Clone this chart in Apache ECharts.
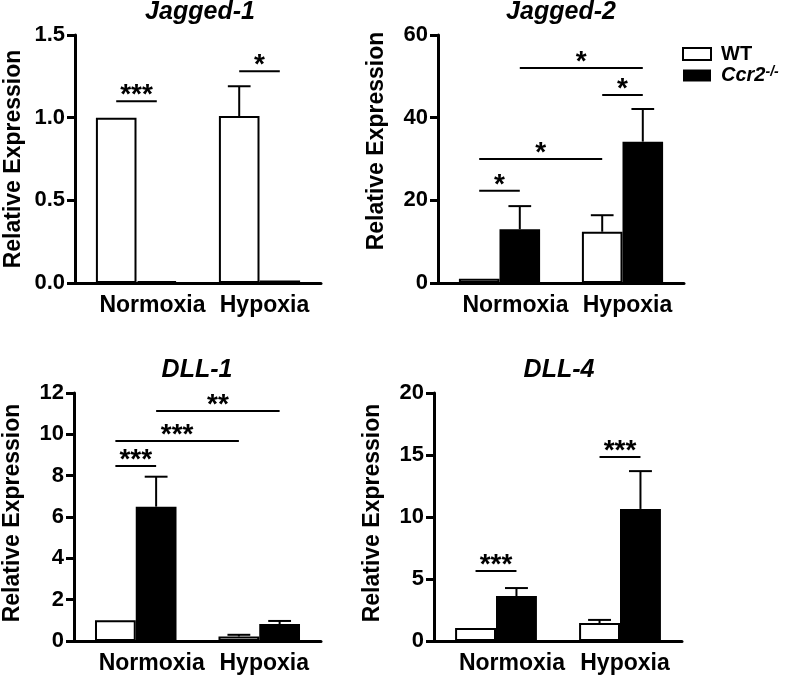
<!DOCTYPE html>
<html><head><meta charset="utf-8">
<script src="https://cdn.jsdelivr.net/npm/echarts@6/dist/echarts.min.js"></script>
<style>html,body{margin:0;padding:0;background:#fff}#c{width:786px;height:678px}</style>
</head><body><div id="c"></div>
<script>
// ---------- data ----------
const categories = ['Normoxia', 'Hypoxia'];
const panelTitles = ['Jagged-1', 'Jagged-2', 'DLL-1', 'DLL-4'];
const seriesNames = ['WT', 'Ccr2'];

const jag1WT = [1.0, 1.01];
const jag1WTUpper = [1.0, 1.19];
const jag1KO = [0.012, 0.015];
const jag1KOUpper = [0.012, 0.015];

const jag2WT = [1.0, 12.4];
const jag2WTUpper = [1.0, 16.4];
const jag2KO = [13.0, 34.2];
const jag2KOUpper = [18.6, 42.1];

const dll1WT = [1.0, 0.22];
const dll1WTUpper = [1.0, 0.3];
const dll1KO = [6.5, 0.82];
const dll1KOUpper = [7.95, 0.97];

const dll4WT = [1.05, 1.45];
const dll4WTUpper = [1.05, 1.7];
const dll4KO = [3.63, 10.65];
const dll4KOUpper = [4.27, 13.7];

const yMax = [1.5, 60, 12, 20];
const yInterval = [0.5, 20, 2, 5];
const yDecimals = [1, 0, 0, 0];

// significance brackets: from [category, series] to [category, series], at y value
const jag1Sig = [
  { from: [0, 0], to: [0, 1], y: 1.10, text: '***' },
  { from: [1, 0], to: [1, 1], y: 1.28, text: '*' }
];
const jag2Sig = [
  { from: [0, 1], to: [1, 1], y: 52.0, text: '*' },
  { from: [1, 0], to: [1, 1], y: 45.5, text: '*' },
  { from: [0, 0], to: [1, 0], y: 30.0, text: '*' },
  { from: [0, 0], to: [0, 1], y: 22.3, text: '*' }
];
const dll1Sig = [
  { from: [0, 0], to: [0, 1], y: 8.47, text: '***' },
  { from: [0, 0], to: [1, 0], y: 9.68, text: '***' },
  { from: [0, 1], to: [1, 1], y: 11.13, text: '**' }
];
const dll4Sig = [
  { from: [0, 0], to: [0, 1], y: 5.65, text: '***' },
  { from: [1, 0], to: [1, 1], y: 14.84, text: '***' }
];

const panelWT = [jag1WT, jag2WT, dll1WT, dll4WT];
const panelWTUpper = [jag1WTUpper, jag2WTUpper, dll1WTUpper, dll4WTUpper];
const panelKO = [jag1KO, jag2KO, dll1KO, dll4KO];
const panelKOUpper = [jag1KOUpper, jag2KOUpper, dll1KOUpper, dll4KOUpper];
const panelSig = [jag1Sig, jag2Sig, dll1Sig, dll4Sig];

// ---------- layout / style ----------
const FONT = 'Liberation Sans, Arial, Helvetica, sans-serif';
const BAR_FRAC = 0.33;
const grids = [
  { left: 75, top: 35, width: 246, height: 248 },
  { left: 438, top: 35, width: 246, height: 248 },
  { left: 74, top: 393, width: 247, height: 248 },
  { left: 434, top: 393, width: 248, height: 248 }
];
const titlePos = [[200, 0], [561, 0], [197, 358], [559, 358]];
const namePad = [0, 36, 8, 8];

function errRender(params, api) {
  const cat = api.value(0), side = api.value(1), mean = api.value(2), up = api.value(3);
  if (!(up > mean)) return null;
  const band = api.size([1, 0])[0];
  const bw = band * BAR_FRAC;
  const b = api.coord([cat, mean]);
  const t = api.coord([cat, up]);
  const x = b[0] + (side === 0 ? -bw / 2 : bw / 2);
  const cap = bw * 0.28;
  return {
    type: 'group', children: [
      { type: 'line', shape: { x1: x, y1: b[1], x2: x, y2: t[1] }, style: { stroke: '#000', lineWidth: 2 } },
      { type: 'line', shape: { x1: x - cap, y1: t[1], x2: x + cap, y2: t[1] }, style: { stroke: '#000', lineWidth: 2 } }
    ]
  };
}

function makeSigRender(sigs) {
  return function (params, api) {
    const s = sigs[params.dataIndex];
    const band = api.size([1, 0])[0];
    const bw = band * BAR_FRAC;
    const p1 = api.coord([s.from[0], s.y]);
    const p2 = api.coord([s.to[0], s.y]);
    const x1 = p1[0] + (s.from[1] === 0 ? -bw / 2 : bw / 2);
    const x2 = p2[0] + (s.to[1] === 0 ? -bw / 2 : bw / 2);
    const y = p1[1];
    return {
      type: 'group', children: [
        { type: 'line', shape: { x1: x1, y1: y, x2: x2, y2: y }, style: { stroke: '#000', lineWidth: 2 } },
        { type: 'text', x: (x1 + x2) / 2, y: y + 8,
          style: { text: s.text, fill: '#000', fontSize: 28, fontWeight: 'bold', fontFamily: FONT, align: 'center', verticalAlign: 'bottom' } }
      ]
    };
  };
}

const option = {
  animation: false,
  backgroundColor: '#fff',
  title: panelTitles.map((t, i) => ({
    text: t, left: titlePos[i][0], top: titlePos[i][1], textAlign: 'center', padding: 0,
    textStyle: { fontSize: 25, fontWeight: 'bold', fontStyle: 'italic', color: '#000', fontFamily: FONT }
  })),
  legend: {
    left: 677, top: 39, orient: 'vertical', itemWidth: 28, itemHeight: 12, itemGap: 1,
    selectedMode: false, icon: 'rect',
    data: [
      { name: 'WT', itemStyle: { color: '#fff', borderColor: '#000', borderWidth: 2 } },
      { name: 'Ccr2', itemStyle: { color: '#000', borderColor: '#000', borderWidth: 0 } }
    ],
    formatter: n => n === 'WT' ? '{b|WT}' : '{i|Ccr2}{s|-/-}',
    textStyle: {
      color: '#000', fontFamily: FONT,
      rich: {
        b: { fontSize: 20, fontWeight: 'bold', fontFamily: FONT, color: '#000', padding: [0, 0, 0, 5], lineHeight: 21 },
        i: { fontSize: 20, fontWeight: 'bold', fontStyle: 'italic', fontFamily: FONT, color: '#000', padding: [0, 0, 0, 5], lineHeight: 21 },
        s: { fontSize: 14, fontWeight: 'bold', fontStyle: 'italic', fontFamily: FONT, color: '#000', verticalAlign: 'top', lineHeight: 21, padding: [0, 0, 7, 0] }
      }
    }
  },
  grid: grids.map(g => Object.assign({ containLabel: false }, g)),
  xAxis: grids.map((g, i) => ({
    type: 'category', gridIndex: i, data: categories,
    axisLine: { lineStyle: { color: '#000', width: 3 } },
    axisTick: { alignWithLabel: true, length: 7, lineStyle: { color: '#000', width: 3 } },
    axisLabel: {
      margin: 11, interval: 0,
      formatter: (v, idx) => idx === 0 ? '{a|' + v + '}' : '{b|' + v + '}',
      rich: {
        a: { fontSize: 23, fontWeight: 'bold', fontFamily: FONT, color: '#000', padding: [0, 0, 0, 32] },
        b: { fontSize: 23, fontWeight: 'bold', fontFamily: FONT, color: '#000', padding: [0, 0, 0, 10] }
      }
    }
  })),
  yAxis: grids.map((g, i) => ({
    type: 'value', gridIndex: i, min: 0, max: yMax[i], interval: yInterval[i],
    axisLine: { show: true, lineStyle: { color: '#000', width: 3 } },
    axisTick: { show: true, length: 8, lineStyle: { color: '#000', width: 3 } },
    splitLine: { show: false },
    axisLabel: {
      margin: 10, fontSize: 22, fontWeight: 'bold', color: '#000', fontFamily: FONT,
      formatter: v => v.toFixed(yDecimals[i])
    },
    name: 'Relative Expression', nameLocation: 'middle', nameGap: 50,
    nameTextStyle: { fontSize: 23, fontWeight: 'bold', color: '#000', fontFamily: FONT, padding: [0, 0, 0, namePad[i]] }
  })),
  series: []
};

for (let i = 0; i < 4; i++) {
  option.series.push({
    type: 'bar', name: seriesNames[0], xAxisIndex: i, yAxisIndex: i,
    barWidth: (BAR_FRAC * 100) + '%', barGap: '0%',
    data: panelWT[i],
    itemStyle: { color: '#fff', borderColor: '#000', borderWidth: 2 },
    emphasis: { disabled: true }, z: 2
  });
  option.series.push({
    type: 'bar', name: seriesNames[1], xAxisIndex: i, yAxisIndex: i,
    barWidth: (BAR_FRAC * 100) + '%', barGap: '0%',
    data: panelKO[i],
    itemStyle: { color: '#000', borderColor: '#000', borderWidth: 2 },
    emphasis: { disabled: true }, z: 2
  });
  const errData = [];
  for (let c = 0; c < categories.length; c++) {
    errData.push([c, 0, panelWT[i][c], panelWTUpper[i][c]]);
    errData.push([c, 1, panelKO[i][c], panelKOUpper[i][c]]);
  }
  option.series.push({
    type: 'custom', xAxisIndex: i, yAxisIndex: i, renderItem: errRender,
    data: errData, z: 3, clip: false, silent: true
  });
  option.series.push({
    type: 'custom', xAxisIndex: i, yAxisIndex: i, renderItem: makeSigRender(panelSig[i]),
    data: panelSig[i].map(s => [s.from[0], s.y]), z: 3, clip: false, silent: true
  });
}

const chart = echarts.init(document.getElementById('c'), null, { renderer: 'canvas' });
chart.setOption(option);
</script>
</body></html>
